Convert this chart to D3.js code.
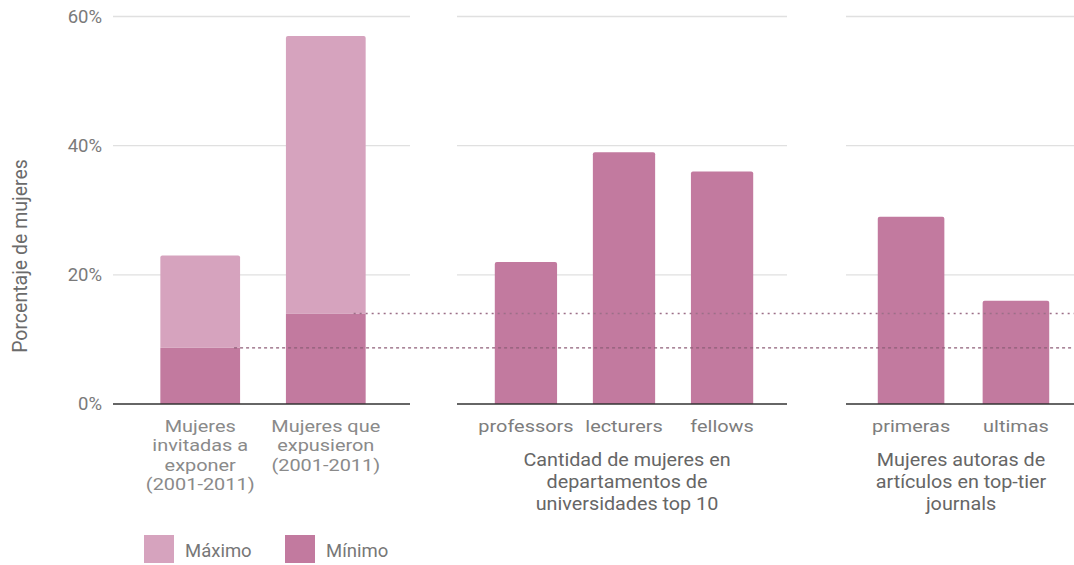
<!DOCTYPE html>
<html><head><meta charset="utf-8">
<script src="https://cdn.jsdelivr.net/npm/d3@7"></script>
<style>body{margin:0;background:#fff}svg{display:block;font-family:Roboto,sans-serif}</style>
</head><body><svg id="c" width="1074" height="565"></svg>
<script>
// ---- data ----
const yTicks = [0, 20, 40, 60];
const yTickLabels = ["0%", "20%", "40%", "60%"];
const g1Categories = ["Mujeres invitadas a exponer (2001-2011)", "Mujeres que expusieron (2001-2011)"];
const g1Lines = [["Mujeres", "invitadas a", "exponer", "(2001-2011)"], ["Mujeres que", "expusieron", "(2001-2011)"]];
const g1Min = [8.7, 14];
const g1Max = [23, 57];
const g2Categories = ["professors", "lecturers", "fellows"];
const g2Values = [22, 39, 36];
const g2Title = ["Cantidad de mujeres en", "departamentos de", "universidades top 10"];
const g3Categories = ["primeras", "ultimas"];
const g3Values = [29, 16];
const g3Title = ["Mujeres autoras de", "artículos en top-tier", "journals"];
const legendLabels = ["Máximo", "Mínimo"];
const refLines = [14, 8.7];

const colMax = "#d6a3be", colMin = "#c27a9f";
const svg = d3.select("#c");
const y = d3.scaleLinear().domain([0, 60]).range([404, 16.5]);

const panels = [
  {x0: 113, x1: 410, bx: [114.5, 411.5], cats: g1Categories, tx: null},
  {x0: 457, x1: 787, bx: [459, 789], cats: g2Categories, tx: 627},
  {x0: 846, x1: 1074, bx: [839.5, 1087.5], cats: g3Categories, tx: 961}
];
panels.forEach(p => {
  p.scale = d3.scaleBand().domain(p.cats).range(p.bx).paddingInner(0.365).paddingOuter(0.365);
  svg.append("g").selectAll("line").data(yTicks.filter(t => t > 0)).join("line")
    .attr("x1", p.x0).attr("x2", p.x1).attr("y1", d => y(d)).attr("y2", d => y(d))
    .attr("stroke", "#e0e0e0").attr("stroke-width", 1.3);
});

// y tick labels
svg.append("g").selectAll("text").data(yTicks).join("text")
  .attr("x", 102).attr("y", d => y(d)).attr("dy", "0.35em").attr("text-anchor", "end")
  .attr("fill", "#7a7a7a").attr("font-size", 18.5).text((d, i) => yTickLabels[i]);

svg.append("text").attr("transform", "translate(27,256) rotate(-90)")
  .attr("text-anchor", "middle").attr("fill", "#6b6b6b").attr("font-size", 19.5)
  .text("Porcentaje de mujeres");

// panel 1 stacked bars
const s1 = panels[0].scale;
function topRounded(x, w, t, b) {
  const r = 2;
  return `M${x},${b}V${t + r}Q${x},${t} ${x + r},${t}H${x + w - r}Q${x + w},${t} ${x + w},${t + r}V${b}Z`;
}
svg.append("g").selectAll("path").data(g1Categories).join("path")
  .attr("fill", colMax)
  .attr("d", (d, i) => topRounded(s1(d), s1.bandwidth(), y(g1Max[i]), y(g1Min[i])));
svg.append("g").selectAll("rect").data(g1Categories).join("rect")
  .attr("x", d => s1(d)).attr("width", s1.bandwidth())
  .attr("y", (d, i) => y(g1Min[i])).attr("height", (d, i) => y(0) - y(g1Min[i]))
  .attr("fill", colMin);

function simpleBars(p, vals) {
  const s = p.scale;
  svg.append("g").selectAll("path").data(p.cats).join("path")
    .attr("fill", colMin)
    .attr("d", (d, i) => topRounded(s(d), s.bandwidth(), y(vals[i]), y(0)));
}
simpleBars(panels[1], g2Values);
simpleBars(panels[2], g3Values);

// reference lines
svg.append("line").attr("x1", s1(g1Categories[1]) + s1.bandwidth() - 12).attr("x2", 1074)
  .attr("y1", y(refLines[0])).attr("y2", y(refLines[0]))
  .attr("stroke", "#9c6f88").attr("stroke-width", 1.5).attr("stroke-dasharray", "2,4");
svg.append("line").attr("x1", s1(g1Categories[0]) + s1.bandwidth() - 6).attr("x2", 1074)
  .attr("y1", y(refLines[1])).attr("y2", y(refLines[1]))
  .attr("stroke", "#8e5f78").attr("stroke-width", 1.3).attr("stroke-dasharray", "3,3");

// baselines
panels.forEach(p => {
  svg.append("line").attr("x1", p.x0).attr("x2", p.x1).attr("y1", y(0)).attr("y2", y(0))
    .attr("stroke", "#333").attr("stroke-width", 1.5);
});

// stretched multi-line text helper
function stretchedText(cx, y0, lines, lh, size, sx, fill) {
  const g = svg.append("g").attr("transform", `translate(${cx},0) scale(${sx},1)`);
  const t = g.append("text").attr("text-anchor", "middle").attr("fill", fill).attr("font-size", size);
  lines.forEach((l, j) => t.append("tspan").attr("x", 0).attr("y", y0 + j * lh).text(l));
}

// category labels
g1Lines.forEach((lines, i) => {
  const cx = s1(g1Categories[i]) + s1.bandwidth() / 2;
  stretchedText(cx, 432, lines, 19.5, 16.2, 1.23, "#8a8a8a");
});
[panels[1], panels[2]].forEach(p => {
  p.cats.forEach(d => {
    stretchedText(p.scale(d) + p.scale.bandwidth() / 2, 432, [d], 20, 17, 1.17, "#7d7d7d");
  });
});
[[panels[1], g2Title], [panels[2], g3Title]].forEach(([p, lines]) => {
  stretchedText(p.tx, 466, lines, 22, 17.5, 1.13, "#666");
});

// legend
const lg = svg.append("g");
[colMax, colMin].forEach((c, i) => {
  const x = 144 + i * 141;
  lg.append("rect").attr("x", x).attr("y", 535).attr("width", 30).attr("height", 28).attr("fill", c);
  lg.append("text").attr("x", x + 41).attr("y", 557).attr("fill", "#777")
    .attr("font-size", 18.5).text(legendLabels[i]);
});
</script></body></html>
